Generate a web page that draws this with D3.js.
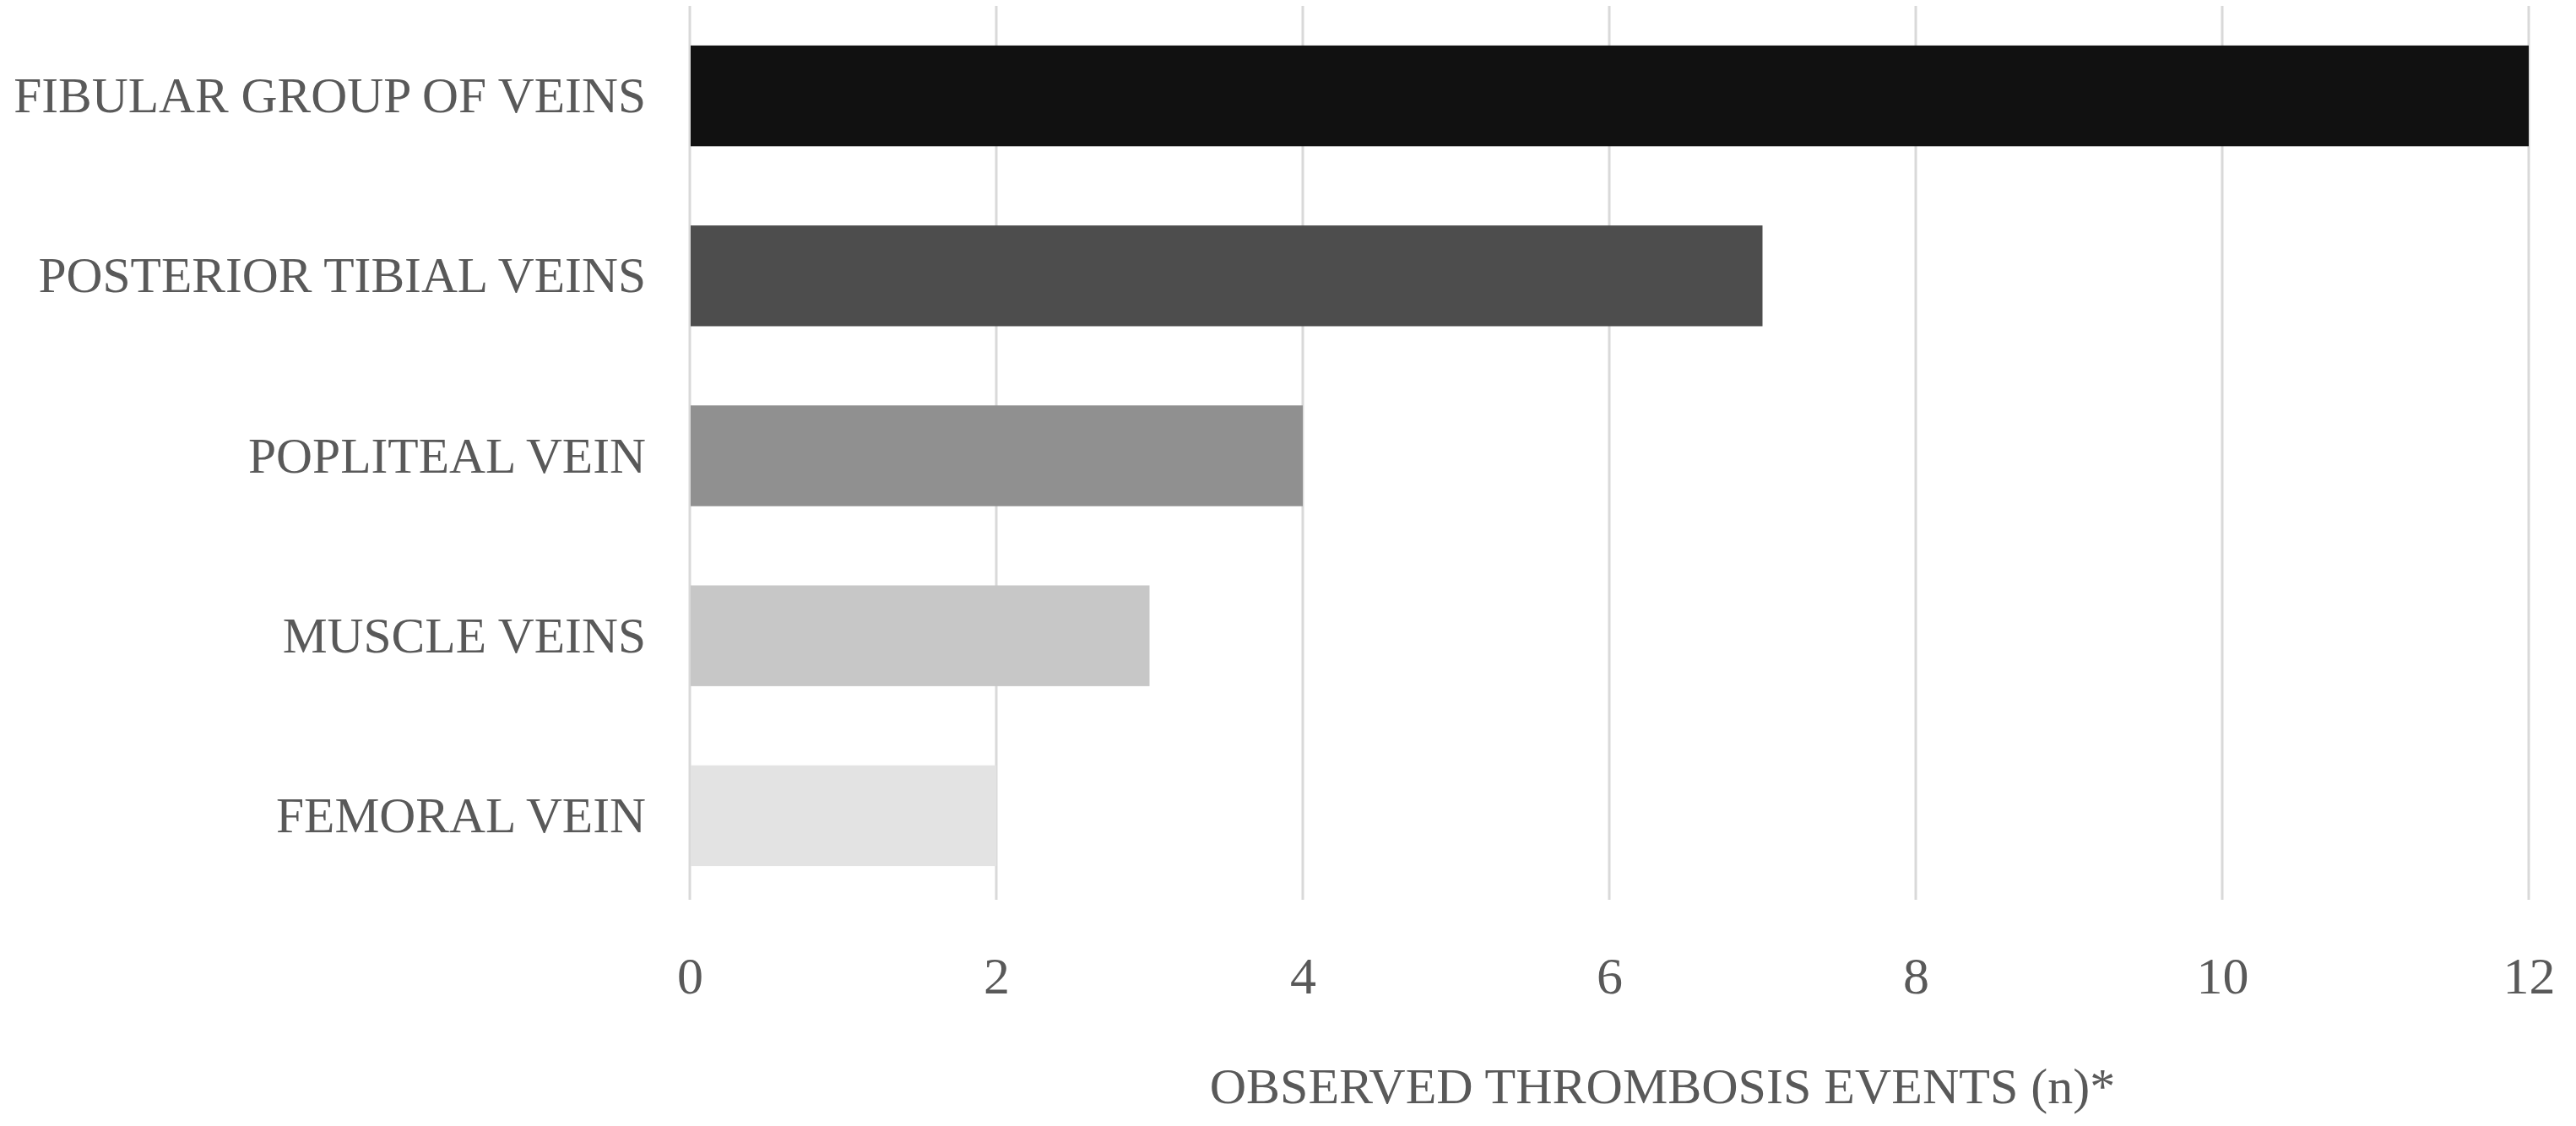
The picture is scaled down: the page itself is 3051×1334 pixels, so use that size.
<!DOCTYPE html>
<html><head><meta charset="utf-8">
<script src="https://cdn.jsdelivr.net/npm/d3@7"></script>
<style>html,body{margin:0;padding:0;background:#fff;}</style>
</head><body>
<svg id="chart" width="3051" height="1334"></svg>
<script>
const categories = ["FIBULAR GROUP OF VEINS","POSTERIOR TIBIAL VEINS","POPLITEAL VEIN","MUSCLE VEINS","FEMORAL VEIN"];
const values = [12, 7, 4, 3, 2];
const barColors = ["#111111","#4d4d4d","#909090","#c7c7c7","#e3e3e3"];
const tickValues = [0,2,4,6,8,10,12];
const axisTitle = "OBSERVED THROMBOSIS EVENTS (n)*";

(function(){
const svg = d3.select("#chart");
const plotLeft = 817, plotRight = 2995, plotTop = 7, plotBottom = 1066;
const font = "'Liberation Serif', 'Times New Roman', serif";
const textColor = "#595959";

const x = d3.scaleLinear().domain([0,12]).range([plotLeft,plotRight]);
const y = d3.scaleBand().domain(categories).range([plotTop,1073]).paddingInner(0.44).paddingOuter(0.22);

// gridlines
svg.append("g").selectAll("line").data(tickValues).join("line")
  .attr("x1", d=>x(d)).attr("x2", d=>x(d))
  .attr("y1", plotTop).attr("y2", plotBottom)
  .attr("stroke", "#d9d9d9").attr("stroke-width", 3);

// bars
svg.append("g").selectAll("rect").data(categories).join("rect")
  .attr("x", x(0)+1)
  .attr("y", d=>y(d))
  .attr("width", (d,i)=>x(values[i])-x(0)-1)
  .attr("height", y.bandwidth())
  .attr("fill", (d,i)=>barColors[i]);

// category labels
svg.append("g").selectAll("text").data(categories).join("text")
  .attr("x", 765)
  .attr("y", d=>y(d)+y.bandwidth()/2)
  .attr("dy", "0.33em")
  .attr("text-anchor","end")
  .attr("font-family", font).attr("font-size", 59.5)
  .attr("fill", textColor)
  .text(d=>d);

// x axis tick labels
const xAxis = d3.axisBottom(x).tickValues(tickValues).tickSize(0).tickPadding(0).tickFormat(d3.format("d"));
const gx = svg.append("g").attr("transform", "translate(0,1130)").call(xAxis);
gx.select(".domain").remove();
gx.selectAll("text").attr("font-family", font).attr("font-size", 62)
  .attr("fill", textColor).attr("dy", null).attr("y", 47);

// axis title
svg.append("text")
  .attr("x", 1969).attr("y", 1307)
  .attr("text-anchor","middle")
  .attr("font-family", font).attr("font-size", 60)
  .attr("fill", textColor)
  .text(axisTitle);
})();
</script>
</body></html>
